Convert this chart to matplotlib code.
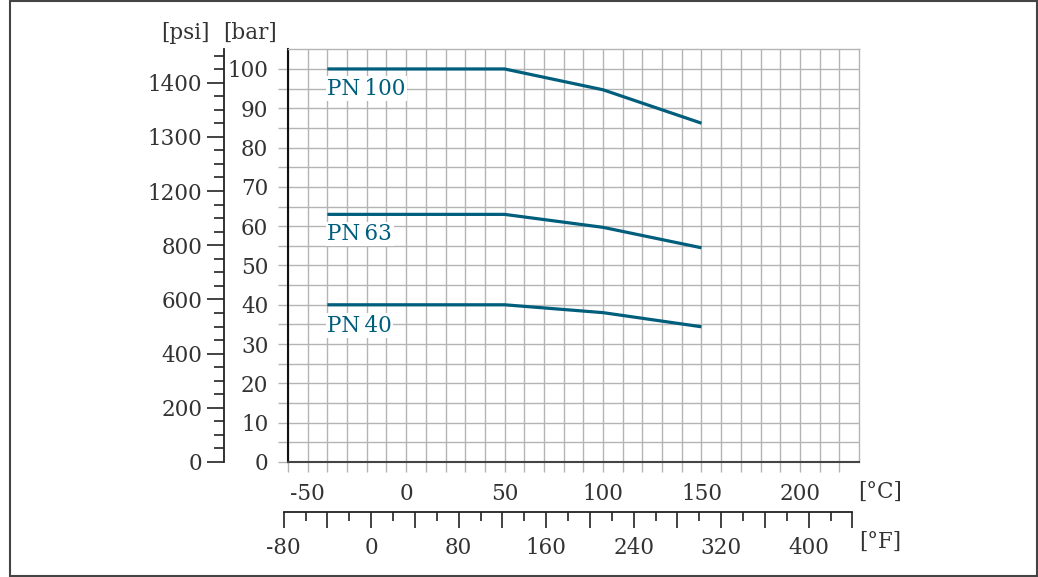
import numpy as np
import matplotlib
matplotlib.use('Agg')
import matplotlib.pyplot as plt
from matplotlib.patches import Rectangle

# pressure-temperature ratings
temp_c = [-40, 50, 100, 150]
pn100 = [100, 100, 94.7, 86.2]
pn63 = [63, 63, 59.7, 54.5]
pn40 = [40, 40, 38.0, 34.4]
series = {'PN 100': pn100, 'PN 63': pn63, 'PN 40': pn40}
label_y = {'PN 100': 95, 'PN 63': 58, 'PN 40': 34.7}

bar_ticks = [0, 10, 20, 30, 40, 50, 60, 70, 80, 90, 100]
psi_ticks = [0, 200, 400, 600, 800, 1000, 1200, 1400]
psi_labels = ['0', '200', '400', '600', '800', '1200', '1300', '1400']
c_ticks = [-50, 0, 50, 100, 150, 200]
f_labels = [-80, 0, 80, 160, 240, 320, 400]

W, H = 1038, 577
line_col = '#005e7d'
txt_col = '#333333'
grid_col = '#b4b4b4'
fs = 15.5

plt.rcParams['font.family'] = ['DejaVu Serif']
plt.rcParams['axes.unicode_minus'] = False

fig = plt.figure(figsize=(W / 100, H / 100), dpi=100)
fig.patches.append(Rectangle((10 / W, 1 / H), 1027 / W, 575 / H, transform=fig.transFigure,
                             fill=False, edgecolor='#444444', linewidth=1.5))

x0, x1, ytop, ybot = 288, 859, 49.3, 462
ax = fig.add_axes([x0 / W, 1 - ybot / H, (x1 - x0) / W, (ybot - ytop) / H])
xmin, xmax = -60, 230
ymin, ymax = 0, 105
ax.set_xlim(xmin, xmax)
ax.set_ylim(ymin, ymax)

# grid
ax.set_xticks(np.arange(-60, 221, 10), minor=True)
ax.set_yticks(np.arange(0, 105, 5), minor=True)
ax.set_xticks(c_ticks)
ax.set_yticks(bar_ticks)
ax.grid(True, which='both', color=grid_col, linewidth=1.0)
ax.set_axisbelow(True)
ax.tick_params(which='both', axis='y', length=7.2, color=grid_col, width=1.0, pad=7,
               labelsize=fs, labelcolor=txt_col)
ax.tick_params(which='both', axis='x', length=7.2, color=grid_col, width=1.0, pad=8,
               labelsize=fs, labelcolor=txt_col)
ax.spines['left'].set_color('#111111')
ax.spines['left'].set_linewidth(1.5)
ax.spines['bottom'].set_color('#444444')
ax.spines['bottom'].set_linewidth(1.5)
for s in ('top', 'right'):
    ax.spines[s].set_color(grid_col)
    ax.spines[s].set_linewidth(1.0)

for name, vals in series.items():
    ax.plot(temp_c, vals, color=line_col, linewidth=2.3, solid_capstyle='butt', zorder=3)
    ax.text(-40, label_y[name], name.replace(' ', '\u2009'), color=line_col, fontsize=fs,
            va='center', ha='left', zorder=4,
            bbox=dict(facecolor='white', edgecolor='none', pad=1.0))

# psi axis
bar2psi = lambda b: b * 14.5038
psi2bar = lambda p: p / 14.5038
sec = ax.secondary_yaxis((224.3 - x0) / (x1 - x0), functions=(bar2psi, psi2bar))
sec.set_yticks(psi_ticks, labels=psi_labels)
sec.set_yticks(np.arange(0, 1501, 50), minor=True)
sec.spines['left'].set_color('#222222')
sec.spines['left'].set_linewidth(1.3)
sec.tick_params(which='major', length=12, width=1.2, color='#222222', pad=4,
                labelsize=fs, labelcolor=txt_col)
sec.tick_params(which='minor', length=7.2, width=1.2, color='#222222')

# Fahrenheit axis as its own strip
c2f = lambda c: c * 1.8 + 32
f2c = lambda f: (f - 32) / 1.8
fmin, fmax = -80, 440
px_per_c = (x1 - x0) / (xmax - xmin)
fl = x0 + (f2c(fmin) - xmin) * px_per_c
fr = x0 + (f2c(fmax) - xmin) * px_per_c
yf = 512.3
axf = fig.add_axes([fl / W, 1 - yf / H, (fr - fl) / W, 0.001])
axf.set_xlim(fmin, fmax)
axf.set_ylim(0, 1)
axf.patch.set_visible(False)
for s in ('top', 'right', 'left'):
    axf.spines[s].set_visible(False)
axf.spines['bottom'].set_color('#222222')
axf.spines['bottom'].set_linewidth(1.3)
axf.set_yticks([])
major_f = np.arange(fmin, fmax + 1, 40)
axf.set_xticks(major_f, labels=[str(v) if v in f_labels else '' for v in major_f])
axf.set_xticks(np.arange(fmin + 20, fmax, 40), minor=True)
axf.tick_params(which='major', length=11.5, width=1.2, color='#222222', pad=6,
                labelsize=fs, labelcolor=txt_col)
axf.tick_params(which='minor', length=6.8, width=1.2, color='#222222')

# unit labels
fig.text(185 / W, 1 - 33 / H, '[psi]', fontsize=fs, color=txt_col, ha='center', va='center')
fig.text(250 / W, 1 - 33 / H, '[bar]', fontsize=fs, color=txt_col, ha='center', va='center')
fig.text(880 / W, 1 - 492 / H, '[°C]', fontsize=fs, color=txt_col, ha='center', va='center')
fig.text(880 / W, 1 - 542 / H, '[°F]', fontsize=fs, color=txt_col, ha='center', va='center')

fig.savefig('out.png', dpi=100)
